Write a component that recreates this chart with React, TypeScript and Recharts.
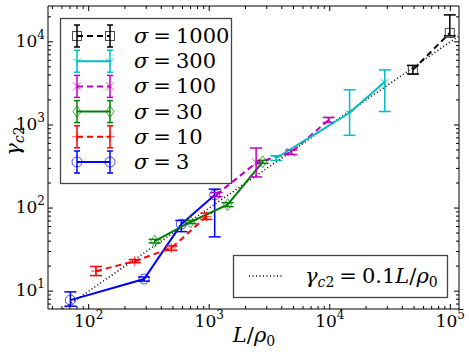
import React from 'react';
import { LineChart, Line, XAxis, YAxis, ErrorBar } from 'recharts';

// sigma = 3
const s3X = [70.5, 288, 587, 1110];
const s3Y = [7.8, 14, 64, 144];
const s3E = [[1.2, 2], [0.8, 0.8], [12, 7], [99, 25]];
// sigma = 10
const s10X = [115, 241, 485, 948];
const s10Y = [17.4, 23, 33, 79];
const s10E = [[2, 2.4], [1, 1], [2, 2], [6, 8]];
// sigma = 30
const s30X = [353, 700, 1420, 2780];
const s30Y = [40, 68, 110, 360];
const s30E = [[2, 2], [3, 3], [6, 6], [15, 15]];
// sigma = 100
const s100X = [1150, 2450, 4800, 9800];
const s100Y = [145, 350, 470, 1150];
const s100E = [[8, 8], [113, 178], [30, 30], [80, 80]];
// sigma = 300
const s300X = [3600, 14600, 28600];
const s300Y = [400, 1400, 3300];
const s300E = [[25, 25], [650, 1250], [1850, 1300]];
// sigma = 1000
const s1000X = [48900, 99000];
const s1000Y = [4600, 12800];
const s1000E = [[500, 600], [1000, 8300]];
// gamma_c2 = 0.1 L/rho0
const refX = [61, 118000];
const refY = [6.1, 11800];

const X_DOMAIN = [46, 118000];
const Y_DOMAIN = [6.1, 27000];

const build = (xs: number[], ys: number[], es?: number[][]) =>
  xs.map((x, i) => ({ x, y: ys[i], e: es ? es[i] : 0 }));

const logTicks = (lo: number, hi: number) => {
  const out: number[] = [];
  for (let d = 1; d <= 1e5; d *= 10) {
    for (let m = 1; m <= 9; m++) {
      const v = d * m;
      if (v >= lo && v <= hi) out.push(v);
    }
  }
  return out;
};
const xTicks = logTicks(X_DOMAIN[0], X_DOMAIN[1]);
const yTicks = logTicks(Y_DOMAIN[0], Y_DOMAIN[1]);
const isMajor = (v: number) => Math.abs(Math.log10(v) - Math.round(Math.log10(v))) < 1e-9;

const FONT = 'DejaVu Serif, serif';
const txt = { fontFamily: FONT };

const BottomTick = (p: any) => {
  const v = p.payload.value;
  const mj = isMajor(v);
  return (
    <g>
      <line x1={p.x} x2={p.x} y1={p.y} y2={p.y - (mj ? 5 : 3)} stroke="#000" strokeWidth={1} />
      {mj && (
        <text x={p.x} y={p.y + 18} textAnchor="middle" style={txt} fontSize={17} fill="#000">
          10<tspan dy={-8} fontSize={12}>{Math.round(Math.log10(v))}</tspan>
        </text>
      )}
    </g>
  );
};
const TopTick = (p: any) => {
  const mj = isMajor(p.payload.value);
  return <line x1={p.x} x2={p.x} y1={p.y} y2={p.y + (mj ? 5 : 3)} stroke="#000" strokeWidth={1} />;
};
const LeftTick = (p: any) => {
  const v = p.payload.value;
  const mj = isMajor(v);
  return (
    <g>
      <line x1={p.x} x2={p.x + (mj ? 5 : 3)} y1={p.y} y2={p.y} stroke="#000" strokeWidth={1} />
      {mj && (
        <text x={p.x - 3} y={p.y + 5} textAnchor="end" style={txt} fontSize={17} fill="#000">
          10<tspan dy={-8} fontSize={12}>{Math.round(Math.log10(v))}</tspan>
        </text>
      )}
    </g>
  );
};
const RightTick = (p: any) => {
  const mj = isMajor(p.payload.value);
  return <line x1={p.x} x2={p.x - (mj ? 5 : 3)} y1={p.y} y2={p.y} stroke="#000" strokeWidth={1} />;
};

const marker = (kind: string, color: string, cx: number, cy: number, key?: any) => {
  const r = 5;
  const op = 0.7;
  if (kind === 'circle') return <circle key={key} cx={cx} cy={cy} r={r} fill="none" stroke={color} strokeWidth={1} opacity={op} />;
  if (kind === 'square') return <rect key={key} x={cx - 4.5} y={cy - 4.5} width={9} height={9} fill="none" stroke={color} strokeWidth={1} opacity={op} />;
  if (kind === 'diamond') return <path key={key} d={`M${cx},${cy - 6}L${cx + 4},${cy}L${cx},${cy + 6}L${cx - 4},${cy}Z`} fill="none" stroke={color} strokeWidth={1} opacity={op} />;
  if (kind === 'x') return <path key={key} d={`M${cx - 4},${cy - 4}L${cx + 4},${cy + 4}M${cx - 4},${cy + 4}L${cx + 4},${cy - 4}`} stroke={color} strokeWidth={1} opacity={op} />;
  if (kind === 'plus') return <path key={key} d={`M${cx - 5},${cy}L${cx + 5},${cy}M${cx},${cy - 5}L${cx},${cy + 5}`} stroke={color} strokeWidth={1} opacity={op} />;
  if (kind === 'tri') return <path key={key} d={`M${cx},${cy}L${cx},${cy + 5}M${cx},${cy}L${cx - 4.3},${cy - 2.5}M${cx},${cy}L${cx + 4.3},${cy - 2.5}`} stroke={color} strokeWidth={1} opacity={op} />;
  return <g key={key} />;
};

const series = [
  { name: '1000', data: build(s1000X, s1000Y, s1000E), color: '#000000', dash: '6 4', mk: 'square' },
  { name: '300', data: build(s300X, s300Y, s300E), color: '#00bfbf', dash: undefined, mk: 'tri' },
  { name: '100', data: build(s100X, s100Y, s100E), color: '#bf00bf', dash: '6 4', mk: 'x' },
  { name: '30', data: build(s30X, s30Y, s30E), color: '#008000', dash: undefined, mk: 'diamond' },
  { name: '10', data: build(s10X, s10Y, s10E), color: '#ff0000', dash: '6 4', mk: 'plus' },
  { name: '3', data: build(s3X, s3Y, s3E), color: '#0000ff', dash: undefined, mk: 'circle' },
];
const refData = build(refX, refY);

const drawOrder = [5, 4, 3, 2, 1, 0];

export default function App() {
  return (
    <div style={{ position: 'absolute', left: 0, top: 0, width: 469, height: 352, background: '#fff' }}>
      <LineChart width={469} height={352} margin={{ top: 5, right: 9, bottom: 13, left: 8 }}>
        <XAxis xAxisId="b" dataKey="x" type="number" scale="log" domain={X_DOMAIN} allowDataOverflow
          ticks={xTicks} interval={0} tick={BottomTick} tickSize={0} tickMargin={0} tickLine={false}
          axisLine={{ stroke: '#000', strokeWidth: 1 }} height={30} />
        <XAxis xAxisId="t" orientation="top" dataKey="x" type="number" scale="log" domain={X_DOMAIN} allowDataOverflow
          ticks={xTicks} interval={0} tick={TopTick} tickSize={0} tickMargin={0} tickLine={false}
          axisLine={{ stroke: '#000', strokeWidth: 1 }} height={1} />
        <YAxis yAxisId="l" dataKey="y" type="number" scale="log" domain={Y_DOMAIN} allowDataOverflow
          ticks={yTicks} interval={0} tick={LeftTick} tickSize={0} tickMargin={0} tickLine={false}
          axisLine={{ stroke: '#000', strokeWidth: 1 }} width={40} />
        <YAxis yAxisId="r" orientation="right" dataKey="y" type="number" scale="log" domain={Y_DOMAIN} allowDataOverflow
          ticks={yTicks} interval={0} tick={RightTick} tickSize={0} tickMargin={0} tickLine={false}
          axisLine={{ stroke: '#000', strokeWidth: 1 }} width={1} />
        <Line xAxisId="b" yAxisId="l" data={refData} dataKey="y" type="linear" stroke="#000" strokeWidth={1.6}
          strokeDasharray="1 2.5" dot={false} activeDot={false} isAnimationActive={false} />
        {drawOrder.map((i) => {
          const s = series[i];
          return (
            <Line key={s.name} xAxisId="b" yAxisId="l" data={s.data} dataKey="y" type="linear" stroke={s.color}
              strokeWidth={2} strokeDasharray={s.dash} activeDot={false} isAnimationActive={false}
              dot={(p: any) => marker(s.mk, s.color, p.cx, p.cy, p.index)}>
              <ErrorBar dataKey="e" direction="y" width={6} stroke={s.color} strokeWidth={1.5} isAnimationActive={false} />
            </Line>
          );
        })}
      </LineChart>
      <svg width={469} height={352} style={{ position: 'absolute', left: 0, top: 0, pointerEvents: 'none' }}>
        {/* series legend */}
        <rect x={60.5} y={18.5} width={171} height={165} fill="#fff" stroke="#444" strokeWidth={1.3} />
        {series.map((s, i) => {
          const cy = 36 + i * 25.2;
          return (
            <g key={s.name}>
              <line x1={77} x2={110} y1={cy} y2={cy} stroke={s.color} strokeWidth={2} strokeDasharray={s.dash} />
              {[77, 110].map((cx) => (
                <g key={cx}>
                  <line x1={cx} x2={cx} y1={cy - 11} y2={cy + 11} stroke={s.color} strokeWidth={1.5} />
                  <line x1={cx - 3} x2={cx + 3} y1={cy - 11} y2={cy - 11} stroke={s.color} strokeWidth={1.5} />
                  <line x1={cx - 3} x2={cx + 3} y1={cy + 11} y2={cy + 11} stroke={s.color} strokeWidth={1.5} />
                  {marker(s.mk, s.color, cx, cy)}
                </g>
              ))}
              <text x={134} y={cy + 7} style={txt} fontSize={21} fill="#000">
                <tspan fontStyle="italic">σ</tspan><tspan dx={5}>=</tspan><tspan dx={5}>{s.name}</tspan>
              </text>
            </g>
          );
        })}
        {/* reference legend */}
        <rect x={233.5} y={255.5} width={214} height={42} fill="#fff" stroke="#444" strokeWidth={1.3} />
        <line x1={249} x2={283} y1={276} y2={276} stroke="#000" strokeWidth={1.6} strokeDasharray="1 2.5" />
        <text x={305} y={283} style={txt} fontSize={21} fill="#000">
          <tspan fontStyle="italic">γ</tspan><tspan fontSize={14} dy={4} fontStyle="italic">c</tspan><tspan fontSize={14}>2</tspan>
          <tspan dy={-4} dx={5}>=</tspan><tspan dx={5}>0.1</tspan><tspan fontStyle="italic">L</tspan>/<tspan fontStyle="italic">ρ</tspan><tspan fontSize={14} dy={4}>0</tspan>
        </text>
        {/* axis labels */}
        <text x={254} y={342} textAnchor="middle" style={txt} fontSize={21} fill="#000">
          <tspan fontStyle="italic">L</tspan>/<tspan fontStyle="italic">ρ</tspan><tspan fontSize={14} dy={4}>0</tspan>
        </text>
        <text transform="translate(20,141) rotate(-90)" textAnchor="middle" style={txt} fontSize={21} fill="#000">
          <tspan fontStyle="italic">γ</tspan><tspan fontSize={14} dy={4} fontStyle="italic">c</tspan><tspan fontSize={14}>2</tspan>
        </text>
      </svg>
    </div>
  );
}
